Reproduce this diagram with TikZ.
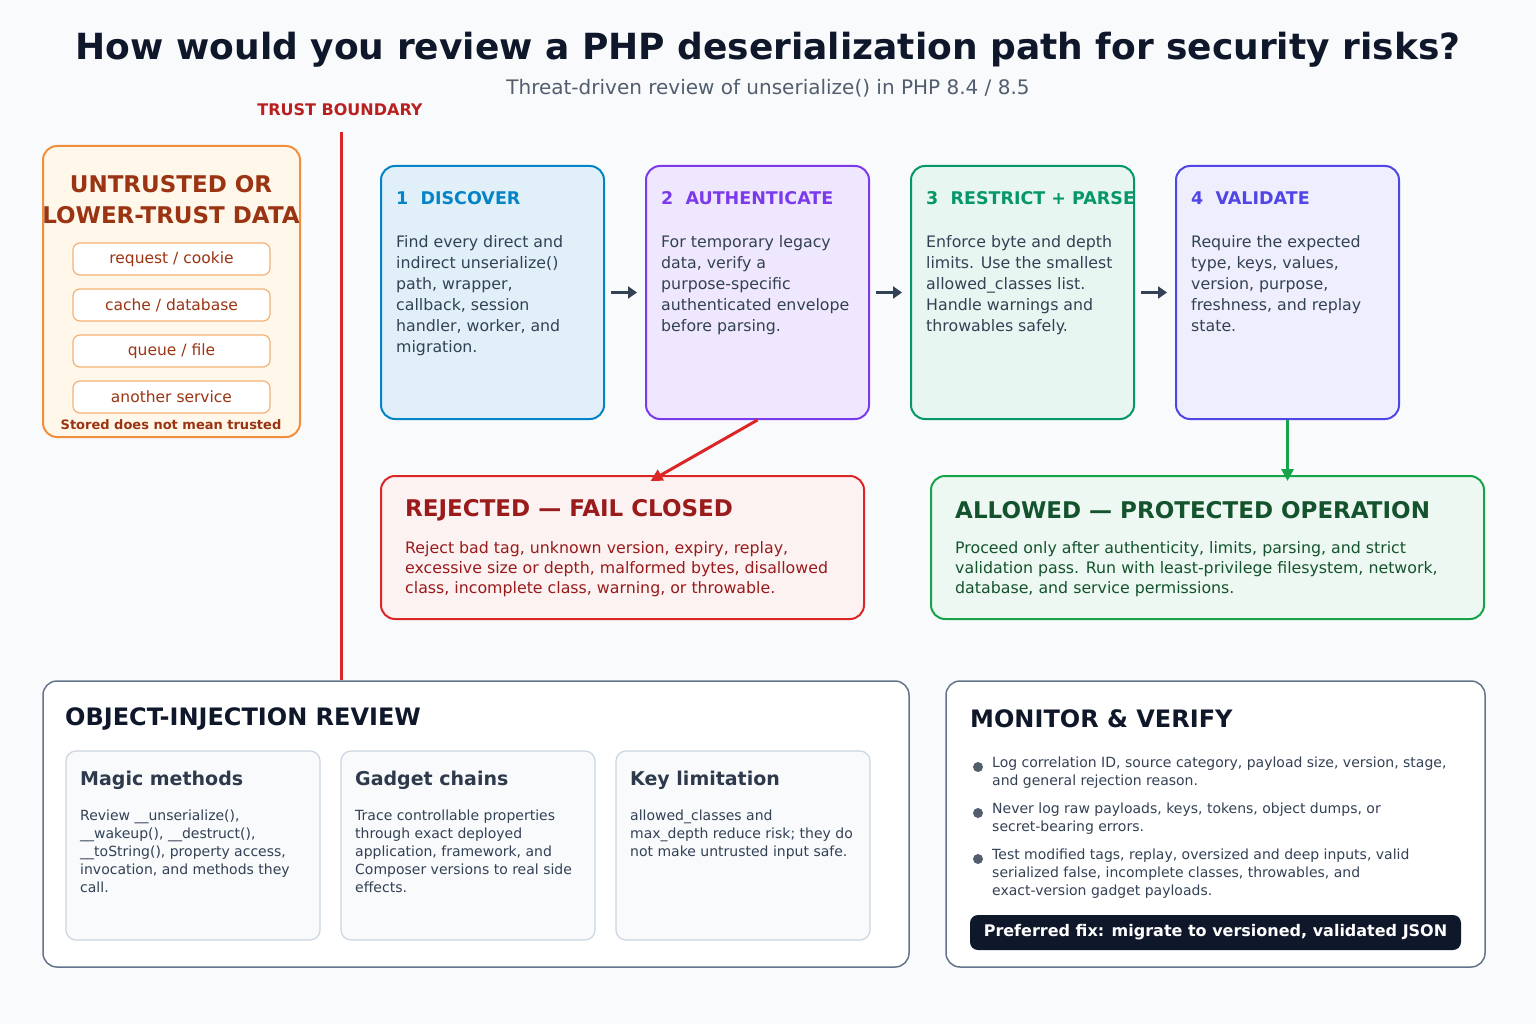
\documentclass[tikz,border=0pt]{standalone}
\usepackage{fontspec}
\setmainfont{DejaVu Sans}
\usetikzlibrary{arrows.meta}
\definecolor{bgc}{HTML}{F8FAFC}
\definecolor{ink}{HTML}{0F172A}
\definecolor{slate}{HTML}{334155}
\definecolor{orng}{HTML}{F0903C}
\definecolor{orngfill}{HTML}{FFF7EA}
\definecolor{orngtxt}{HTML}{9A3412}
\definecolor{redc}{HTML}{DC2626}
\definecolor{redtxt}{HTML}{991B1B}
\definecolor{bluec}{HTML}{0284C7}
\definecolor{purc}{HTML}{7C3AED}
\definecolor{grnc}{HTML}{059669}
\definecolor{indc}{HTML}{4F46E5}
\definecolor{okc}{HTML}{16A34A}
\definecolor{oktxt}{HTML}{14532D}
\definecolor{gryc}{HTML}{64748B}
\definecolor{cardc}{HTML}{CBD5E1}
\tikzset{
  box/.style={draw, line width=2pt, rounded corners=14pt},
  stagebox/.style={box, minimum width=223pt, minimum height=253pt},
  pill/.style={draw=orng!70, line width=1.2pt, fill=white, rounded corners=7pt,
    minimum width=197pt, minimum height=32pt, text=orngtxt, font=\fontsize{15.5}{18}\selectfont},
  steptitle/.style={anchor=west, inner sep=0pt, font=\bfseries\fontsize{17.5}{20}\selectfont},
  body/.style={anchor=north west, inner sep=0pt, align=left, text=slate, font=\fontsize{15.8}{21}\selectfont},
  card/.style={draw=cardc, line width=1.2pt, fill=bgc, rounded corners=10pt, minimum width=254pt, minimum height=189pt},
  cardtitle/.style={anchor=west, inner sep=0pt, text=slate!90!black, font=\bfseries\fontsize{19}{21}\selectfont},
  cardbody/.style={anchor=north west, inner sep=0pt, align=left, text=slate, font=\fontsize{14}{18}\selectfont},
  flow/.style={-{Triangle[length=9pt,width=12pt]}, line width=3pt, slate},
  dot/.style={circle, fill=slate!85, inner sep=0pt, minimum size=10pt},
}
\begin{document}
\begin{tikzpicture}[x=1pt,y=-1pt]
  \fill[bgc] (0,0) rectangle (1536,1024);
  \useasboundingbox (0,0) rectangle (1536,1024);
  % title
  \node[text=ink, font=\bfseries\fontsize{36}{40}\selectfont] (title) at (768,50) {How would you review a PHP deserialization path for security risks?};
  \node[text=slate!85, font=\fontsize{20}{24}\selectfont] (subtitle) at (768,88) {Threat-driven review of unserialize() in PHP 8.4 / 8.5};
  % trust boundary
  \node[text=redc!85!black, font=\bfseries\fontsize{16}{18}\selectfont] (tblabel) at (340,110) {TRUST BOUNDARY};
  \coordinate (tbtop) at (341,132);
  \coordinate (tbbot) at (341,680);
  \draw[redc, line width=3pt] (tbtop) -- (tbbot);
  % untrusted sources
  \node[box, draw=orng, fill=orngfill, minimum width=257pt, minimum height=291pt] (src) at (171.5,291.5) {};
  \node[align=center, text=orngtxt, font=\bfseries\fontsize{23}{31}\selectfont] (srctitle) at (171,200) {UNTRUSTED OR\\LOWER-TRUST DATA};
  \node[pill] (p1) at (171.5,259) {request / cookie};
  \node[pill] (p2) at (171.5,305) {cache / database};
  \node[pill] (p3) at (171.5,351) {queue / file};
  \node[pill] (p4) at (171.5,397) {another service};
  \node[text=orngtxt, font=\bfseries\fontsize{13}{14}\selectfont] (srcnote) at (171,425) {Stored does not mean trusted};
  % steps
  \node[stagebox, draw=bluec, fill=bluec!12] (s1) at (492.5,292.5) {};
  \node[stagebox, draw=purc, fill=purc!12] (s2) at (757.5,292.5) {};
  \node[stagebox, draw=grnc, fill=grnc!9] (s3) at (1022.5,292.5) {};
  \node[stagebox, draw=indc, fill=indc!9] (s4) at (1287.5,292.5) {};
  \node[steptitle, text=bluec] at (396,198) {1\ \ DISCOVER};
  \node[steptitle, text=purc] at (661,198) {2\ \ AUTHENTICATE};
  \node[steptitle, text=grnc] at (926,198) {3\ \ RESTRICT + PARSE};
  \node[steptitle, text=indc] at (1191,198) {4\ \ VALIDATE};
  \node[body] at (396,235) {Find every direct and\\indirect unserialize()\\path, wrapper,\\callback, session\\handler, worker, and\\migration.};
  \node[body] at (661,235) {For temporary legacy\\data, verify a\\purpose-specific\\authenticated envelope\\before parsing.};
  \node[body] at (926,235) {Enforce byte and depth\\limits. Use the smallest\\allowed\_classes list.\\Handle warnings and\\throwables safely.};
  \node[body] at (1191,235) {Require the expected\\type, keys, values,\\version, purpose,\\freshness, and replay\\state.};
  \draw[flow] ([xshift=6pt]s1.east) -- ([xshift=-8pt]s2.west);
  \draw[flow] ([xshift=6pt]s2.east) -- ([xshift=-8pt]s3.west);
  \draw[flow] ([xshift=6pt]s3.east) -- ([xshift=-8pt]s4.west);
  % outcomes
  \node[box, draw=redc, fill=redc!6, minimum width=483pt, minimum height=143pt] (rej) at (622.5,547.5) {};
  \node[anchor=west, inner sep=0pt, text=redtxt, font=\bfseries\fontsize{23}{26}\selectfont] at (405,510) {REJECTED — FAIL CLOSED};
  \node[body, text=redtxt, font=\fontsize{15.8}{20}\selectfont] at (405,541) {Reject bad tag, unknown version, expiry, replay,\\excessive size or depth, malformed bytes, disallowed\\class, incomplete class, warning, or throwable.};
  \node[box, draw=okc, fill=okc!8, minimum width=553pt, minimum height=143pt] (ok) at (1207.5,547.5) {};
  \node[anchor=west, inner sep=0pt, text=oktxt, font=\bfseries\fontsize{23}{26}\selectfont] at (955,510) {ALLOWED — PROTECTED OPERATION};
  \node[body, text=oktxt, font=\fontsize{15.8}{20}\selectfont] at (955,541) {Proceed only after authenticity, limits, parsing, and strict\\validation pass. Run with least-privilege filesystem, network,\\database, and service permissions.};
  \draw[-{Triangle[length=12pt,width=12pt]}, line width=3pt, redc] (s2.south) -- ([xshift=28pt,yshift=-6pt]rej.north);
  \draw[-{Triangle[length=12pt,width=12pt]}, line width=3pt, okc] (s4.south) -- ([yshift=-6pt]s4.south |- ok.north);
  % object injection review
  \node[box, line width=1.5pt, draw=gryc, fill=white, minimum width=866pt, minimum height=286pt] (oir) at (476,824) {};
  \node[anchor=west, inner sep=0pt, text=ink, font=\bfseries\fontsize{24}{27}\selectfont] at (65,719) {OBJECT-INJECTION REVIEW};
  \node[card] (c1) at (193,845.5) {};
  \node[card] (c2) at (468,845.5) {};
  \node[card] (c3) at (743,845.5) {};
  \node[cardtitle] at (80,780) {Magic methods};
  \node[cardtitle] at (355,780) {Gadget chains};
  \node[cardtitle] at (630,780) {Key limitation};
  \node[cardbody] at (80,810) {Review \_\_unserialize(),\\\_\_wakeup(), \_\_destruct(),\\\_\_toString(), property access,\\invocation, and methods they\\call.};
  \node[cardbody] at (355,810) {Trace controllable properties\\through exact deployed\\application, framework, and\\Composer versions to real side\\effects.};
  \node[cardbody] at (630,810) {allowed\_classes and\\max\_depth reduce risk; they do\\not make untrusted input safe.};
  % monitor
  \node[box, line width=1.5pt, draw=gryc, fill=white, minimum width=539pt, minimum height=286pt] (mon) at (1215.5,824) {};
  \node[anchor=west, inner sep=0pt, text=ink, font=\bfseries\fontsize{24}{27}\selectfont] at (970,719) {MONITOR \& VERIFY};
  \node[dot] (d1) at (978,767) {};
  \node[dot] (d2) at (978,813) {};
  \node[dot] (d3) at (978,859) {};
  \node[cardbody, font=\fontsize{14}{18}\selectfont] at (992,757) {Log correlation ID, source category, payload size, version, stage,\\and general rejection reason.};
  \node[cardbody, font=\fontsize{14}{18}\selectfont] at (992,803) {Never log raw payloads, keys, tokens, object dumps, or\\secret-bearing errors.};
  \node[cardbody, font=\fontsize{14}{18}\selectfont] at (992,849) {Test modified tags, replay, oversized and deep inputs, valid\\serialized false, incomplete classes, throwables, and\\exact-version gadget payloads.};
  \node[fill=ink, rounded corners=8pt, minimum width=491pt, minimum height=35pt, text=white, font=\bfseries\fontsize{16}{18}\selectfont] (fix) at (1215.5,932.5) {Preferred fix: migrate to versioned, validated JSON};
\end{tikzpicture}
\end{document}
